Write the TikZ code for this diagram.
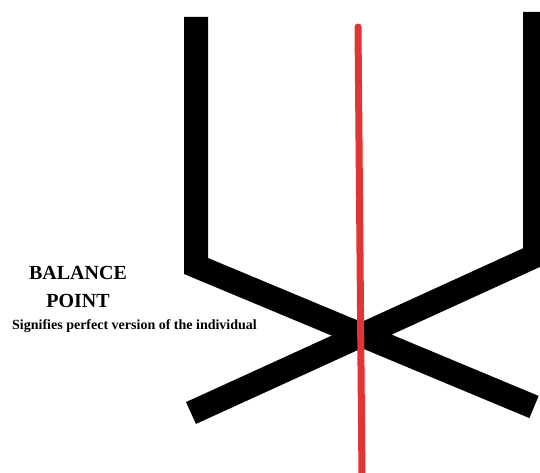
\documentclass[tikz,border=0pt]{standalone}
\usepackage{fontspec}
\setmainfont{Liberation Serif}
\usetikzlibrary{positioning}
\definecolor{balred}{RGB}{226,52,52}
\begin{document}
\begin{tikzpicture}[x=1pt, y=-1pt,
    arm/.style={line width=24pt, line join=miter},
    axis/.style={line width=7pt, balred, line cap=round},
    head/.style={font=\bfseries\fontsize{20}{24}\selectfont, inner sep=0pt, anchor=base},
    note/.style={font=\bfseries\fontsize{14}{16}\selectfont, inner sep=0pt, anchor=base west}]
    \useasboundingbox (0,0) rectangle (540,473);
    \clip (0,0) rectangle (540,473);
    \fill[white] (0,0) rectangle (540,473);

    \path
    (196,17)  coordinate (ltop)
    (196,266) coordinate (lbend)
    (534,407) coordinate (lend)
    (535,12)  coordinate (rtop)
    (535,256) coordinate (rbend)
    (191,413) coordinate (rend)
    (358,27)  coordinate (mtop)
    (362,480) coordinate (mbot)
    ;

    % the two bent arms
    \draw[arm] (ltop) -- (lbend) -- (lend);
    \draw[arm] (rtop) -- (rbend) -- (rend);

    % red middle line
    \draw[axis] (mtop) -- (mbot);

    \node[head] (balance) at (78,279) {BALANCE};
    \node[head] (point) at (78,307) {POINT};
    \node[note] (signifies) at (12,329) {Signifies perfect version of the individual};
\end{tikzpicture}
\end{document}
